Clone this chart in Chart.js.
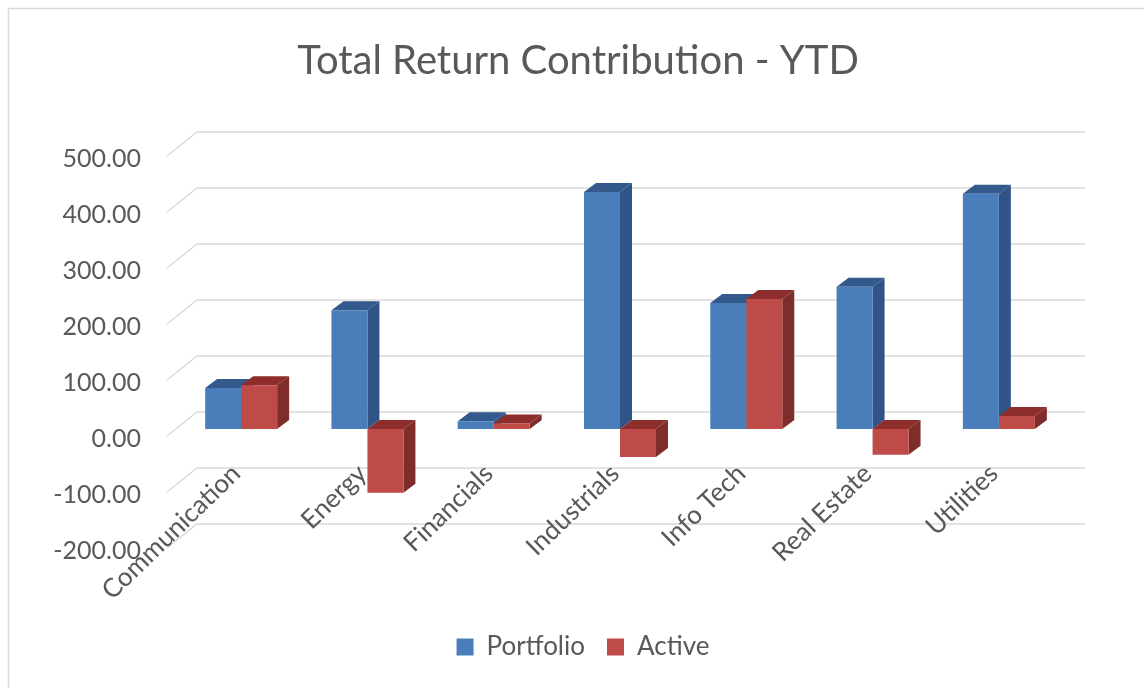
<!DOCTYPE html>
<html>
<head>
<meta charset="utf-8">
<title>Total Return Contribution - YTD</title>
<script src="https://cdn.jsdelivr.net/npm/chart.js@4"></script>
<style>
html, body { margin: 0; padding: 0; background: #fff; }
#wrap { position: relative; width: 1144px; height: 688px; }
canvas { filter: blur(0.5px); }
</style>
</head>
<body>
<div id="wrap"><canvas id="myChart"></canvas></div>
<script>
var categories = ['Communication', 'Energy', 'Financials', 'Industrials', 'Info Tech', 'Real Estate', 'Utilities'];
var portfolio = [73, 212, 14, 423, 225, 254, 420];
var active = [78, -114, 10, -50, 232, -46, 23];
var yTicks = [500, 400, 300, 200, 100, 0, -100, -200];

var textColor = '#595959';
var fontName = 'Lato';
var depthX = 12, depthY = -9;

// 3D look: top and right faces, drawn before the front faces
var bar3d = {
    id: 'bar3d',
    beforeDatasetsDraw: function (chart) {
        var ctx = chart.ctx;
        var shades = [
            { top: '#34598C', side: '#2F5485' },
            { top: '#8E2E2C', side: '#7F2D2B' }
        ];
        chart.data.datasets.forEach(function (ds, d) {
            chart.getDatasetMeta(d).data.forEach(function (el) {
                var l = el.x - el.width / 2, r = el.x + el.width / 2;
                var t = Math.min(el.y, el.base), b = Math.max(el.y, el.base);
                ctx.fillStyle = shades[d].top;
                ctx.beginPath();
                ctx.moveTo(l, t);
                ctx.lineTo(l + depthX, t + depthY);
                ctx.lineTo(r + depthX, t + depthY);
                ctx.lineTo(r, t);
                ctx.fill();
                ctx.fillStyle = shades[d].side;
                ctx.beginPath();
                ctx.moveTo(r, t);
                ctx.lineTo(r + depthX, t + depthY);
                ctx.lineTo(r + depthX, b + depthY);
                ctx.lineTo(r, b);
                ctx.fill();
            });
        });
    }
};

// back wall gridlines with the slanted piece at the left, plus the frame (top and left only)
var wall = {
    id: 'wall',
    afterLayout: function (chart) {
        // legend sits a little right of the title in the original
        chart.legend.left += 5;
        chart.legend.right += 5;
    },
    beforeDraw: function (chart) {
        var ctx = chart.ctx;
        ctx.save();
        ctx.strokeStyle = '#d9d9d9';
        ctx.lineWidth = 1.5;
        ctx.beginPath();
        ctx.moveTo(8.5, 688);
        ctx.lineTo(8.5, 8.5);
        ctx.lineTo(1144, 8.5);
        ctx.stroke();
        var y = chart.scales.y;
        yTicks.forEach(function (v) {
            var py = y.getPixelForValue(v) - 17;
            ctx.beginPath();
            ctx.moveTo(167, py + 24);
            ctx.lineTo(197, py);
            ctx.lineTo(1085, py);
            ctx.stroke();
        });
        ctx.restore();
    }
};

var chartArea = document.getElementById('myChart').getContext('2d');
var myChart = new Chart(chartArea, {
    type: 'bar',
    data: {
        labels: categories,
        datasets: [
            { label: 'Portfolio', data: portfolio, backgroundColor: '#4A7EBB', barPercentage: 1, categoryPercentage: 0.57 },
            { label: 'Active', data: active, backgroundColor: '#BE4B48', barPercentage: 1, categoryPercentage: 0.57 }
        ]
    },
    options: {
        responsive: true,
        maintainAspectRatio: false,
        animation: false,
        layout: { padding: { left: 12, right: 0, top: 0, bottom: 18 } },
        plugins: {
            title: {
                display: true,
                text: 'Total Return Contribution - YTD',
                color: textColor,
                font: { family: fontName, size: 40, weight: 'normal', lineHeight: 1.2 },
                padding: { top: 37, bottom: 64 }
            },
            legend: {
                position: 'bottom',
                labels: { color: textColor, font: { family: fontName, size: 26 }, boxWidth: 17, boxHeight: 17, padding: 22 }
            },
            tooltip: { enabled: false }
        },
        scales: {
            x: {
                position: { y: -38 },
                grid: { display: false },
                border: { display: false },
                ticks: {
                    color: textColor,
                    font: { family: fontName, size: 26 },
                    minRotation: 44,
                    maxRotation: 44,
                    autoSkip: false,
                    labelOffset: -5,
                    padding: 0
                }
            },
            // empty axes, only keep the room around the plot
            spacer: {
                type: 'category',
                position: 'bottom',
                labels: [''],
                grid: { display: false },
                border: { display: false },
                ticks: { display: false },
                afterFit: function (scale) { scale.height = 71; }
            },
            spacerRight: {
                type: 'linear',
                position: 'right',
                grid: { display: false },
                border: { display: false },
                ticks: { display: false },
                afterFit: function (scale) { scale.width = 82; }
            },
            y: {
                min: -200,
                max: 500,
                afterBuildTicks: function (scale) {
                    scale.ticks = yTicks.map(function (v) { return { value: v }; });
                },
                afterFit: function (scale) { scale.width = 166; },
                grid: { display: false },
                border: { display: false },
                ticks: {
                    color: textColor,
                    font: { family: fontName, size: 25 },
                    labelOffset: 10,
                    padding: 29,
                    callback: function (v) { return v.toFixed(2); }
                }
            }
        }
    },
    plugins: [wall, bar3d]
});
</script>
</body>
</html>
